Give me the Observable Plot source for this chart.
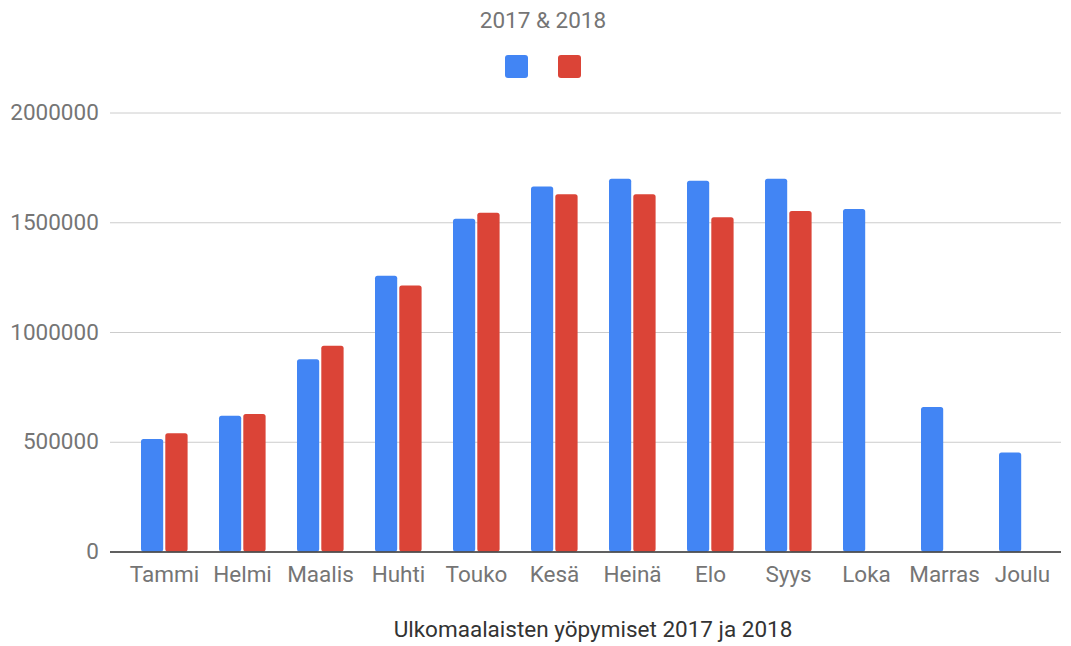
<!DOCTYPE html>
<html>
<head>
<meta charset="utf-8">
<script src="https://cdn.jsdelivr.net/npm/d3@7"></script>
<script src="https://cdn.jsdelivr.net/npm/@observablehq/plot@0.6"></script>
<style>
  html, body { margin: 0; padding: 0; background: #fff; }
  #wrap { position: relative; width: 1071px; height: 646px; font-family: Roboto, sans-serif; overflow: hidden; }
  #title { position: absolute; left: 0; top: 8px; width: 1086px; text-align: center; font-size: 22.5px; line-height: 24px; color: #757575; }
  #legend { position: absolute; left: 505px; top: 55px; display: flex; gap: 30.6px; }
  #legend span { display: block; width: 22.7px; height: 22.7px; border-radius: 3px; }
  #chart { position: absolute; left: 0; top: 90px; }
  #caption { position: absolute; left: 115px; top: 616.5px; width: 956px; text-align: center; font-size: 22.5px; line-height: 24px; color: #333; }
</style>
</head>
<body>
<div id="wrap">
  <div id="title">2017 &amp; 2018</div>
  <div id="legend"></div>
  <div id="chart"></div>
  <div id="caption">Ulkomaalaisten yöpymiset 2017 ja 2018</div>
</div>
<script>
const months = ["Tammi", "Helmi", "Maalis", "Huhti", "Touko", "Kesä", "Heinä", "Elo", "Syys", "Loka", "Marras", "Joulu"];
const years = ["2017", "2018"];
const values2017 = [513000, 618000, 876000, 1256000, 1516000, 1663000, 1698000, 1689000, 1698000, 1560000, 658000, 451000];
const values2018 = [539000, 626000, 937000, 1212000, 1543000, 1628000, 1628000, 1523000, 1551000];
const yTicks = [0, 500000, 1000000, 1500000, 2000000];
const colors = ["#4285f4", "#db4437"];

const data2017 = values2017.map((v, i) => ({month: months[i], year: years[0], value: v}));
const data2018 = values2018.map((v, i) => ({month: months[i], year: years[1], value: v}));

const legend = document.getElementById("legend");
colors.forEach(c => { const s = document.createElement("span"); s.style.background = c; legend.appendChild(s); });

const chart = Plot.plot({
  width: 1071,
  height: 510,
  marginLeft: 110,
  marginRight: 10,
  marginTop: 22.5,
  marginBottom: 48.5,
  style: {fontFamily: "Roboto, sans-serif", fontSize: "22.5px", color: "#757575", background: "#fff"},
  x: {domain: months, range: [124, 1061], padding: 0, label: null},
  y: {domain: [0, 2000000], label: null},
  marks: [
    Plot.gridY(yTicks, {stroke: "#cccccc", strokeOpacity: 1, strokeWidth: 1}),
    Plot.axisY(yTicks, {tickSize: 0, tickPadding: 11.7, tickFormat: d => String(d), fill: "#757575", label: null}),
    Plot.axisX({tickSize: 0, tickPadding: 14.5, fill: "#757575", label: null}),
    Plot.barY(data2017, {x: "month", y: "value", fill: colors[0], insetLeft: 16, insetRight: 39.8, rx: 2.5}),
    Plot.barY(data2018, {x: "month", y: "value", fill: colors[1], insetLeft: 40.3, insetRight: 15.4, rx: 2.5}),
    Plot.ruleY([0], {stroke: "#333", strokeWidth: 1.5})
  ]
});
document.getElementById("chart").appendChild(chart);
</script>
</body>
</html>
